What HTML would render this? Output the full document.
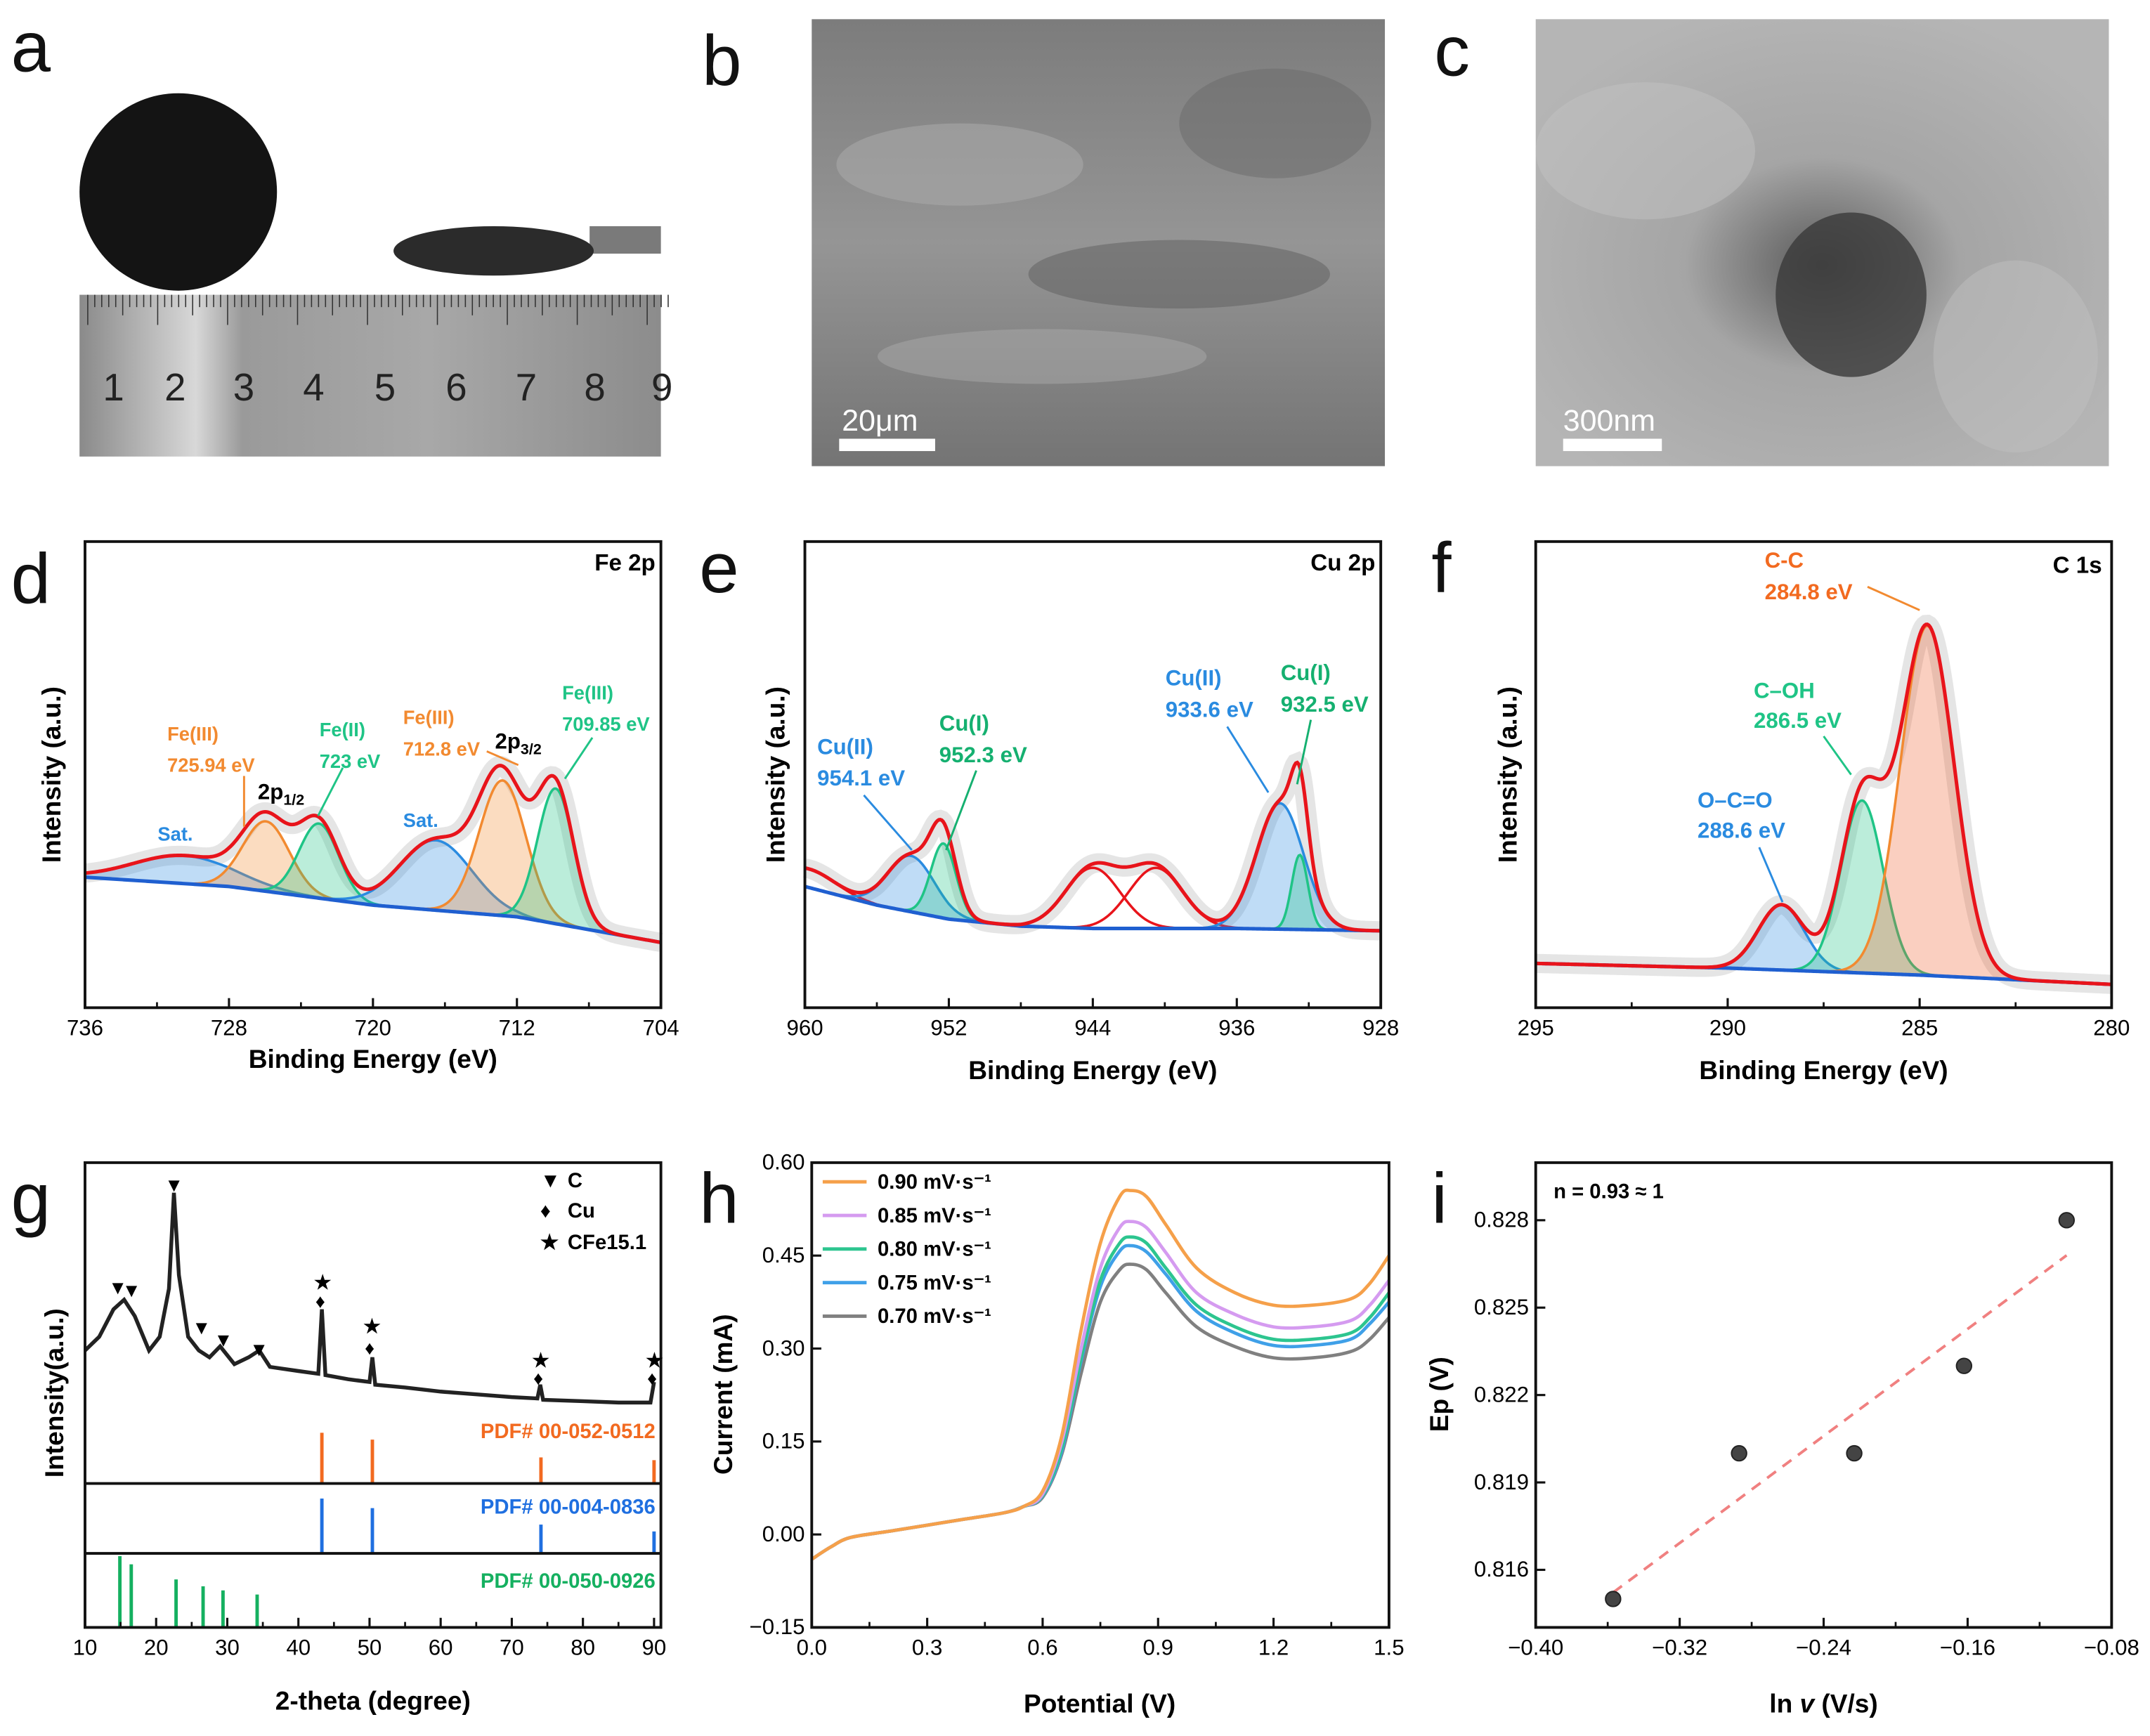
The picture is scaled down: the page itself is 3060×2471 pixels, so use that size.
<!DOCTYPE html>
<html><head><meta charset="utf-8"><style>
html,body{margin:0;padding:0;background:#fff}
svg{display:block}
text{font-family:"Liberation Sans",Arial,sans-serif}
</style></head><body>
<svg id="fig" xmlns="http://www.w3.org/2000/svg" width="3060" height="2471" viewBox="0 0 1568 1266.2" preserveAspectRatio="none">
<defs>
<linearGradient id="rulerg" x1="0" x2="1" y1="0" y2="0">
<stop offset="0" stop-color="#8a8a8a"/><stop offset="0.2" stop-color="#d8d8d8"/><stop offset="0.28" stop-color="#9a9a9a"/><stop offset="0.6" stop-color="#a8a8a8"/><stop offset="1" stop-color="#8c8c8c"/></linearGradient>
<linearGradient id="semb" x1="0" x2="0" y1="0" y2="1"><stop offset="0" stop-color="#7c7c7c"/><stop offset="0.5" stop-color="#959595"/><stop offset="1" stop-color="#747474"/></linearGradient>
<radialGradient id="semc" cx="0.5" cy="0.55" r="0.6"><stop offset="0" stop-color="#5a5a5a"/><stop offset="0.4" stop-color="#a5a5a5"/><stop offset="1" stop-color="#b5b5b5"/></radialGradient>
</defs>
<rect x="0" y="0" width="1568" height="1266.2" fill="#fff"/>

<g>
<circle cx="130" cy="140" r="72" fill="#141414"/>
<rect x="430" y="165" width="52" height="20" fill="#7a7a7a"/>
<ellipse cx="360" cy="183" rx="73" ry="18" fill="#2b2b2b"/>
<rect x="58" y="215" width="424" height="118" fill="url(#rulerg)"/>
<g id="rulerTicks"></g>
<g font-size="28" fill="#222">
<text x="75" y="292">1</text><text x="120" y="292">2</text><text x="170" y="292">3</text><text x="221" y="292">4</text><text x="273" y="292">5</text><text x="325" y="292">6</text><text x="376" y="292">7</text><text x="426" y="292">8</text><text x="475" y="292">9</text></g>
</g>
<g>
<rect x="592" y="14" width="418" height="326" fill="url(#semb)"/>
<ellipse cx="700" cy="120" rx="90" ry="30" fill="#a8a8a8" opacity="0.6"/>
<ellipse cx="860" cy="200" rx="110" ry="25" fill="#5e5e5e" opacity="0.5"/>
<ellipse cx="760" cy="260" rx="120" ry="20" fill="#aaaaaa" opacity="0.5"/>
<ellipse cx="930" cy="90" rx="70" ry="40" fill="#6a6a6a" opacity="0.5"/>
<rect x="612" y="320" width="70" height="9" fill="#fff"/>
<text x="614" y="314" font-size="22" fill="#fff">20μm</text>
</g>
<g>
<rect x="1120" y="14" width="418" height="326" fill="url(#semc)"/>
<ellipse cx="1350" cy="215" rx="55" ry="60" fill="#3a3a3a" opacity="0.8"/>
<ellipse cx="1200" cy="110" rx="80" ry="50" fill="#c2c2c2" opacity="0.5"/>
<ellipse cx="1470" cy="260" rx="60" ry="70" fill="#c0c0c0" opacity="0.5"/>
<rect x="1140" y="320" width="72" height="9" fill="#fff"/>
<text x="1140" y="314" font-size="22" fill="#fff">300nm</text>
</g>

<g font-size="52" fill="#111">
<text x="8" y="52">a</text><text x="512" y="62">b</text><text x="1046" y="55">c</text>
<text x="8" y="440">d</text><text x="510" y="432">e</text><text x="1044" y="432">f</text>
<text x="8" y="892">g</text><text x="510" y="892">h</text><text x="1044" y="892">i</text></g>

<g id="plots"></g>

<g font-weight="bold" font-size="17">
<text x="478" y="416" text-anchor="end">Fe 2p</text>
<text x="1003" y="416" text-anchor="end">Cu 2p</text>
<text x="1533" y="418" text-anchor="end">C 1s</text>
<g font-size="14">
<text x="115" y="613" fill="#2a8be0">Sat.</text><text x="294" y="603" fill="#2a8be0">Sat.</text>
<text x="122" y="540" fill="#f28a30">Fe(III)</text><text x="122" y="563" fill="#f28a30">725.94 eV</text>
<text x="233" y="537" fill="#1fc486">Fe(II)</text><text x="233" y="560" fill="#1fc486">723 eV</text>
<text x="294" y="528" fill="#f28a30">Fe(III)</text><text x="294" y="551" fill="#f28a30">712.8 eV</text>
<text x="410" y="510" fill="#1fc486">Fe(III)</text><text x="410" y="533" fill="#1fc486">709.85 eV</text></g>
<text x="188" y="583" font-size="16">2p<tspan font-size="11" dy="4">1/2</tspan></text>
<text x="361" y="546" font-size="16">2p<tspan font-size="11" dy="4">3/2</tspan></text>
<g font-size="16">
<text x="596" y="550" fill="#2a8be0">Cu(II)</text><text x="596" y="573" fill="#2a8be0">954.1 eV</text>
<text x="685" y="533" fill="#15b070">Cu(I)</text><text x="685" y="556" fill="#15b070">952.3 eV</text>
<text x="850" y="500" fill="#2a8be0">Cu(II)</text><text x="850" y="523" fill="#2a8be0">933.6 eV</text>
<text x="934" y="496" fill="#15b070">Cu(I)</text><text x="934" y="519" fill="#15b070">932.5 eV</text>
<text x="1287" y="414" fill="#f26a20">C-C</text><text x="1287" y="437" fill="#f26a20">284.8 eV</text>
<text x="1279" y="509" fill="#1fc486">C–OH</text><text x="1279" y="531" fill="#1fc486">286.5 eV</text>
<text x="1238" y="589" fill="#2a8be0">O–C=O</text><text x="1238" y="611" fill="#2a8be0">288.6 eV</text>
</g>
<g stroke-width="1.5" fill="none">
<path d="M178 603 L178 566" stroke="#f28a30"/><path d="M232 595 L250 560" stroke="#1fc486"/>
<path d="M378 558 L355 548" stroke="#f28a30"/><path d="M412 568 L432 538" stroke="#1fc486"/>
<path d="M665 620 L630 580" stroke="#2a8be0"/><path d="M690 620 L712 562" stroke="#15b070"/>
<path d="M925 578 L895 530" stroke="#2a8be0"/><path d="M946 572 L956 525" stroke="#15b070"/>
<path d="M1300 658 L1283 618" stroke="#2a8be0"/><path d="M1350 565 L1330 537" stroke="#1fc486"/>
<path d="M1400 445 L1362 428" stroke="#f28a30"/></g>
<g font-size="15">
<text x="394" y="866">▼</text><text x="414" y="866">C</text>
<text x="394" y="888">♦</text><text x="414" y="888">Cu</text>
<text x="394" y="911">★</text><text x="414" y="911">CFe15.1</text>
<text x="478" y="1049" text-anchor="end" fill="#f26a20">PDF# 00-052-0512</text>
<text x="478" y="1104" text-anchor="end" fill="#1f6fe0">PDF# 00-004-0836</text>
<text x="478" y="1158" text-anchor="end" fill="#15b060">PDF# 00-050-0926</text>
<text x="1133" y="874" font-size="15">n = 0.93 ≈ 1</text></g>
<g font-size="14">
<text x="120" y="869">▼</text><text x="79" y="944">▼</text><text x="89" y="946">▼</text><text x="140" y="973">▼</text><text x="156" y="982">▼</text><text x="182" y="989">▼</text>
<text x="229" y="940">★</text><text x="230" y="954">♦</text><text x="265" y="972">★</text><text x="266" y="988">♦</text>
<text x="388" y="997">★</text><text x="389" y="1010">♦</text><text x="471" y="997">★</text><text x="472" y="1010">♦</text></g>
<g font-size="19">
<text x="272" y="779" text-anchor="middle">Binding Energy (eV)</text>
<text x="797" y="787" text-anchor="middle">Binding Energy (eV)</text>
<text x="1330" y="787" text-anchor="middle">Binding Energy (eV)</text>
<text x="272" y="1247" text-anchor="middle">2-theta (degree)</text>
<text x="802" y="1249" text-anchor="middle">Potential (V)</text>
<text x="1330" y="1249" text-anchor="middle">ln <tspan font-style="italic">v</tspan> (V/s)</text>
<text transform="translate(44,565) rotate(-90)" text-anchor="middle">Intensity (a.u.)</text>
<text transform="translate(572,565) rotate(-90)" text-anchor="middle">Intensity (a.u.)</text>
<text transform="translate(1106,565) rotate(-90)" text-anchor="middle">Intensity (a.u.)</text>
<text transform="translate(46,1016) rotate(-90)" text-anchor="middle">Intensity(a.u.)</text>
<text transform="translate(534,1017) rotate(-90)" text-anchor="middle">Current (mA)</text>
<text transform="translate(1056,1017) rotate(-90)" text-anchor="middle">Ep (V)</text>
</g></g>
</svg>
<script>
const feCenters=[730.5,725.94,723,716.5,712.8,709.85];
const feAmps=[6,15,16,15,29,29];
const feSigmas=[2.8,1.3,1.1,2.0,1.3,1.0];
const feBaseE=[736,728,720,712,704];
const feBaseV=[28,26,22,19.5,14];
const cuCenters=[959.8,954.1,952.3,944,940.5,933.6,932.5];
const cuAmps=[4,12,16,13,13,27,16];
const cuSigmas=[1.5,1.3,0.7,1.5,1.5,1.3,0.45];
const cuBaseE=[960,956,952,948,944,936,928];
const cuBaseV=[26,22,19,17.5,17,17,16.5];
const cCenters=[288.6,286.5,284.8];
const cAmps=[14,37,75];
const cSigmas=[0.6,0.55,0.7];
const cBaseE=[295,290,285,280];
const cBaseV=[9.5,8.5,7,5];
const xrdTheta=[10,12,14,15.5,17,19,20.5,21.8,22.5,23.2,24.5,26,27.5,29,31,33,34.5,36,40,42.8,43.3,43.8,47,50,50.4,50.8,55,60,65,70,73.6,74,74.4,80,85,89.5,90];
const xrdInt=[27.5,32.5,42.5,46,40,27.5,32.5,50,85,55,32.5,27.5,25,29,22.5,25,27.5,21.5,20,19,42.5,18.5,17,16,25,15,14,12.5,11.5,10.5,10,15,9.5,9,8.5,8.5,16];
const pdfCuFe=[43.3,50.4,74.1,90]; const pdfCuFeH=[37,32,19,17];
const pdfCu=[43.3,50.4,74.1,90]; const pdfCuH=[40,33,21,16];
const pdfC=[14.9,16.5,22.8,26.6,29.4,34.2]; const pdfCH=[52,46,35,30,27,24];
const cvPot=[0,0.05,0.1,0.2,0.3,0.4,0.5,0.55,0.6,0.65,0.7,0.75,0.8,0.83,0.87,0.92,1.0,1.1,1.2,1.3,1.4,1.45,1.5];
const cv090=[-0.04,-0.02,-0.005,0.005,0.015,0.025,0.035,0.045,0.07,0.16,0.33,0.47,0.545,0.555,0.545,0.5,0.43,0.39,0.37,0.37,0.38,0.405,0.45];
const cv085=[-0.04,-0.02,-0.005,0.005,0.015,0.025,0.035,0.045,0.065,0.15,0.30,0.43,0.495,0.505,0.495,0.455,0.39,0.355,0.335,0.335,0.345,0.37,0.41];
const cv080=[-0.04,-0.02,-0.005,0.005,0.015,0.025,0.035,0.045,0.063,0.14,0.285,0.41,0.47,0.48,0.47,0.43,0.37,0.335,0.315,0.315,0.325,0.35,0.39];
const cv075=[-0.04,-0.02,-0.005,0.005,0.015,0.025,0.035,0.045,0.062,0.135,0.28,0.40,0.457,0.466,0.456,0.42,0.36,0.325,0.305,0.305,0.315,0.34,0.375];
const cv070=[-0.04,-0.02,-0.005,0.005,0.015,0.025,0.035,0.045,0.06,0.13,0.26,0.375,0.427,0.436,0.427,0.39,0.335,0.303,0.285,0.285,0.295,0.315,0.35];
const cvLabels=['0.90 mV·s⁻¹','0.85 mV·s⁻¹','0.80 mV·s⁻¹','0.75 mV·s⁻¹','0.70 mV·s⁻¹'];
const epX=[-0.357,-0.287,-0.223,-0.162,-0.105];
const epY=[0.815,0.820,0.820,0.823,0.828];

const NS='http://www.w3.org/2000/svg';
const root=document.getElementById('plots');
function mk(tag,a,parent){const e=document.createElementNS(NS,tag);for(const k in a)e.setAttribute(k,a[k]);(parent||root).appendChild(e);return e;}
function interp(xs,ys,x){for(let i=0;i<xs.length-1;i++){const a=xs[i],b=xs[i+1];if((x-a)*(x-b)<=0){const t=(x-a)/(b-a);return ys[i]+t*(ys[i+1]-ys[i]);}}return ys[ys.length-1];}

const rt=document.getElementById('rulerTicks');
for(let k=0;k<84;k++){const x=64+k*5.1;const len=k%10==0?22:(k%5==0?15:9);
const t=mk('line',{x1:x,y1:215,x2:x,y2:215+len,stroke:'#333','stroke-width':0.8},rt);

}

function frame(name,x0,y0,x1,y1){const r=mk('rect',{x:x0,y:y0,width:x1-x0,height:y1-y0,fill:'none',stroke:'#111','stroke-width':2});

}
function xticks(name,x0,x1,yb,vals,vmin,vmax,minor,labels){const g=mk('g',{});


vals.forEach((v,i)=>{const x=x0+(v-vmin)/(vmax-vmin)*(x1-x0);
const l=mk('line',{x1:x,y1:yb,x2:x,y2:yb-7,stroke:'#111','stroke-width':1.6},g);


const t=mk('text',{x:x,y:yb+20,'font-size':16,'text-anchor':'middle'},g);t.textContent=labels[i];


if(minor&&i<vals.length-1){const xm=x0+((v+vals[i+1])/2-vmin)/(vmax-vmin)*(x1-x0);
const m=mk('line',{x1:xm,y1:yb,x2:xm,y2:yb-4,stroke:'#111','stroke-width':1.4},g);

}});}
function yticks(name,xl,y0,y1,vals,vmin,vmax,labels){const g=mk('g',{});


vals.forEach((v,i)=>{const y=y1-(v-vmin)/(vmax-vmin)*(y1-y0);
const l=mk('line',{x1:xl,y1:y,x2:xl+7,y2:y,stroke:'#111','stroke-width':1.6},g);


const t=mk('text',{x:xl-5,y:y+5,'font-size':16,'text-anchor':'end'},g);t.textContent=labels[i];

});}

function xps(pre,x0,x1,eL,eR,yb,baseE,baseV,cen,amp,sig,cols,fills){
 const xp=e=>x0+(eL-e)/(eL-eR)*(x1-x0);
 const yp=v=>yb-v*3.4;
 const N=400;const E=[];for(let i=0;i<=N;i++)E.push(eL+(eR-eL)*i/N);
 const base=E.map(e=>interp(baseE,baseV,e));
 const comp=cen.map((c,k)=>E.map(e=>amp[k]*Math.exp(-Math.pow(e-c,2)/(2*sig[k]*sig[k]))));
 const env=E.map((e,i)=>base[i]+comp.reduce((s,cc)=>s+cc[i],0));
 const raw=mk('polyline',{points:E.map((e,i)=>xp(e)+','+yp(env[i])).join(' '),fill:'none',stroke:'#d0d0d0','stroke-width':14,'stroke-opacity':0.55});
 
 
 comp.forEach((cc,k)=>{const top=E.map((e,i)=>xp(e)+','+yp(base[i]+cc[i]));const bot=E.map((e,i)=>xp(e)+','+yp(base[i])).reverse();
  if(fills[k]){const f=mk('polygon',{points:top.concat(bot).join(' '),fill:fills[k],'fill-opacity':0.3,stroke:'none'});
  
  }
  const idx=[];cc.forEach((v,i)=>{if(v>0.05)idx.push(i);});
  const l=mk('polyline',{points:idx.map(i=>top[i]).join(' '),fill:'none',stroke:cols[k],'stroke-width':1.8});
  
  });
 const b=mk('polyline',{points:E.map((e,i)=>xp(e)+','+yp(base[i])).join(' '),fill:'none',stroke:'#1f5fd0','stroke-width':2.6});
 
 
 const en=mk('polyline',{points:E.map((e,i)=>xp(e)+','+yp(env[i])).join(' '),fill:'none',stroke:'#e8141b','stroke-width':2.6});
 
 
}
const B='#2a8be0',O='#f28a30',G='#1fc486',R='#e8141b';
xps('fe2p',62,482,736,704,735,feBaseE,feBaseV,feCenters,feAmps,feSigmas,[B,O,G,B,O,G],[B,O,G,B,O,G]);
frame('fe2p-plot-frame',62,395,482,735);
xticks('fe2p-x-axis',62,482,735,[736,728,720,712,704],736,704,true,['736','728','720','712','704']);
xps('cu2p',587,1007,960,928,735,cuBaseE,cuBaseV,cuCenters,cuAmps,cuSigmas,[R,B,G,R,R,B,G],[null,B,G,null,null,B,G]);
frame('cu2p-plot-frame',587,395,1007,735);
xticks('cu2p-x-axis',587,1007,735,[960,952,944,936,928],960,928,true,['960','952','944','936','928']);
xps('c1s',1120,1540,295,280,735,cBaseE,cBaseV,cCenters,cAmps,cSigmas,[B,G,O],[B,G,'#f06030']);
frame('c1s-plot-frame',1120,395,1540,735);
xticks('c1s-x-axis',1120,1540,735,[295,290,285,280],295,280,true,['295','290','285','280']);

const gx=t=>62+(t-10)/80*415;
const xr=mk('polyline',{points:xrdTheta.map((t,i)=>gx(t)+','+(1040-xrdInt[i]*2)).join(' '),fill:'none',stroke:'#222','stroke-width':2.8});


function sticks(name,arr,h,yb,col){arr.forEach((t,i)=>{const l=mk('line',{x1:gx(t),x2:gx(t),y1:yb,y2:yb-h[i],stroke:col,'stroke-width':2.5});

});}
sticks('pdf-cufe-stick',pdfCuFe,pdfCuFeH,1082,'#f26a20');
sticks('pdf-cu-stick',pdfCu,pdfCuH,1133,'#1f6fe0');
sticks('pdf-c-stick',pdfC,pdfCH,1187,'#15b060');
frame('xrd-plot-frame',62,848,482,1187);
const s1=mk('line',{x1:62,x2:482,y1:1082,y2:1082,stroke:'#111','stroke-width':2});


const s2=mk('line',{x1:62,x2:482,y1:1133,y2:1133,stroke:'#111','stroke-width':2});


xticks('xrd-x-axis',62,477,1187,[10,20,30,40,50,60,70,80,90],10,90,true,['10','20','30','40','50','60','70','80','90']);

const hx=v=>592+v/1.5*421, hy=v=>1187-(v+0.15)/0.75*339;
function smooth(pts){let d='M'+pts[0][0]+','+pts[0][1];for(let i=0;i<pts.length-1;i++){const p0=pts[i-1]||pts[i],p1=pts[i],p2=pts[i+1],p3=pts[i+2]||p2;
d+=' C'+(p1[0]+(p2[0]-p0[0])/6)+','+(p1[1]+(p2[1]-p0[1])/6)+' '+(p2[0]-(p3[0]-p1[0])/6)+','+(p2[1]-(p3[1]-p1[1])/6)+' '+p2[0]+','+p2[1];}return d;}
const cvSeries=[cv070,cv075,cv080,cv085,cv090];
const cvCols=['#808080','#3fa0e8','#2dc58f','#d59bf0','#f5a04a'];
const cvNames=['cv-0.70','cv-0.75','cv-0.80','cv-0.85','cv-0.90'];
cvSeries.forEach((s,k)=>{const p=mk('path',{d:smooth(cvPot.map((v,i)=>[hx(v),hy(s[i])])),fill:'none',stroke:cvCols[k],'stroke-width':2.4});

});
frame('cv-plot-frame',592,848,1013,1187);
xticks('cv-x-axis',592,1013,1187,[0,0.3,0.6,0.9,1.2,1.5],0,1.5,true,['0.0','0.3','0.6','0.9','1.2','1.5']);
yticks('cv-y-axis',592,848,1187,[-0.15,0,0.15,0.3,0.45,0.6],-0.15,0.6,['−0.15','0.00','0.15','0.30','0.45','0.60']);
cvLabels.forEach((lab,i)=>{const y=862+i*24.5;const col=cvCols[4-i];
const l=mk('line',{x1:600,x2:632,y1:y,y2:y,stroke:col,'stroke-width':2.5});


const t=mk('text',{x:640,y:y+5,'font-size':15,'font-weight':'bold'});t.textContent=lab;

});

const ix=v=>1120+(v+0.40)/0.32*420, iy=v=>1145-(v-0.816)/0.012*255;
const n=epX.length,mx=epX.reduce((a,b)=>a+b)/n,my=epY.reduce((a,b)=>a+b)/n;
let sxy=0,sxx=0;epX.forEach((x,i)=>{sxy+=(x-mx)*(epY[i]-my);sxx+=(x-mx)*(x-mx);});
const slope=sxy/sxx,icpt=my-slope*mx;
const fl=mk('line',{x1:ix(epX[0]),y1:iy(icpt+slope*epX[0]),x2:ix(epX[n-1]),y2:iy(icpt+slope*epX[n-1]),stroke:'#f08080','stroke-width':2,'stroke-dasharray':'8,6'});


epX.forEach((x,i)=>{const c=mk('circle',{cx:ix(x),cy:iy(epY[i]),r:5.5,fill:'#444',stroke:'#222','stroke-width':1});

});
frame('ep-plot-frame',1120,848,1540,1187);
xticks('ep-x-axis',1120,1540,1187,[-0.40,-0.32,-0.24,-0.16,-0.08],-0.40,-0.08,true,['−0.40','−0.32','−0.24','−0.16','−0.08']);
[0.816,0.819,0.822,0.825,0.828].forEach(v=>{const y=iy(v);
const l=mk('line',{x1:1120,x2:1127,y1:y,y2:y,stroke:'#111','stroke-width':1.6});


const t=mk('text',{x:1115,y:y+5,'font-size':16,'text-anchor':'end'});t.textContent=v.toFixed(3);

});
</script>
</body></html>
